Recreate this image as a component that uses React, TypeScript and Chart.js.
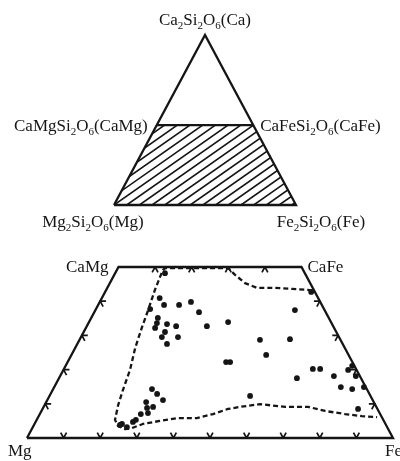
import React, { useEffect, useRef } from "react";
import { Chart, registerables } from "chart.js";

Chart.register(...registerables);

const FONT = '"Liberation Serif", "Times New Roman", serif';
const MAIN_SIZE = 17;
const SUB_SIZE = 11;
const SUB_DROP = 4;
const INK = "#151515";

// ---------- upper diagram: Ca2Si2O6 – Mg2Si2O6 – Fe2Si2O6 (x: % along base, y: Ca %)
const triangleX = [0, 100, 50, 0];
const triangleY = [0, 0, 100, 0];
const joinCa = 47; // level of the CaMg–CaFe join as drawn
const triangleLabels = [
  "Ca₂Si₂O₆(Ca)",
  "CaMgSi₂O₆(CaMg)",
  "CaFeSi₂O₆(CaFe)",
  "Mg₂Si₂O₆(Mg)",
  "Fe₂Si₂O₆(Fe)",
];

// ---------- lower diagram: pyroxene quadrilateral (Fs %, Wo %)
const quadFs = [0, 100, 50, 0, 0];
const quadWo = [0, 0, 50, 50, 0];
const quadLabels = ["CaMg", "CaFe", "Mg", "Fe"];

const sampleFs = [
  15.8, 18.0, 22.1, 24.9, 28.6, 14.8, 18.2, 18.7, 21.6, 24.4, 18.9, 22.2, 22.1,
  26.5, 24.5, 32.8, 38.0, 13.6, 54.5, 49.3, 57.4, 56.3, 53.2, 43.3, 44.4, 68.0,
  70.0, 65.0, 74.8, 77.8, 78.3, 80.8, 78.3, 81.7, 84.6, 54.8, 86.2, 27.0, 29.1,
  31.6, 27.3, 29.9, 28.4, 29.4, 27.6, 27.1, 26.6, 23.9, 25.7, 23.5,
];
const sampleWo = [
  40.9, 38.9, 38.9, 39.8, 36.8, 37.7, 35.1, 33.6, 33.3, 32.7, 32.2, 31.0, 29.5,
  29.5, 27.5, 32.7, 33.9, 48.2, 37.4, 28.7, 28.9, 42.7, 24.3, 22.2, 22.2, 20.2,
  20.2, 17.5, 18.1, 19.9, 21.1, 18.1, 14.9, 14.3, 14.9, 12.3, 8.5, 14.3, 12.9,
  11.1, 10.5, 9.1, 8.8, 7.3, 7.0, 5.3, 4.7, 4.1, 3.2, 3.8,
];

// dashed field boundary
const fieldFs = [
  56.4, 55.1, 50.6, 45.8, 40.9, 36.9, 33.0, 30.1, 22.5, 12.9, 12.6, 12.8, 13.3,
  14.4, 15.2, 16.4, 18.2, 19.2, 20.1, 21.4, 23.1, 25.5, 27.2, 29.6, 33.8, 38.1,
  43.5, 47.3, 50.7, 53.7, 58.7, 66.0, 72.3, 77.5, 83.4, 88.3, 92.6,
];
const fieldWo = [
  43.0, 43.3, 43.6, 43.9, 43.9, 45.3, 47.7, 49.7, 49.7, 49.7, 49.1, 47.1, 43.3,
  37.4, 32.5, 26.3, 19.9, 14.0, 9.6, 5.3, 3.5, 2.6, 2.9, 4.1, 5.0, 5.8, 5.8, 7.0,
  8.5, 9.1, 9.9, 9.1, 9.1, 7.9, 7.0, 6.4, 6.1,
];

const baseTicks = [10, 20, 30, 40, 50, 60, 70, 80, 90]; // Fs on Mg–Fe
const sideTicks = [10, 20, 30, 40]; // Wo on both sides
const topTicks = [10, 20, 30, 40]; // Fs on CaMg–CaFe

const TICK_ARM = 1.6; // arm length in composition units

type P = { x: number; y: number };
const toXY = (fs: number, wo: number): P => ({ x: fs + wo / 2, y: wo });
const GAP: P = { x: NaN, y: NaN };

function tickPath(): P[] {
  const d = TICK_ARM;
  const out: P[] = [];
  const v = (a: [number, number], b: [number, number], c: [number, number]) => {
    out.push(toXY(a[0], a[1]), toXY(b[0], b[1]), toXY(c[0], c[1]), GAP);
  };
  baseTicks.forEach((f) => v([f, d], [f, 0], [f - d, d]));
  sideTicks.forEach((w) => v([d, w], [0, w], [d, w - d]));
  sideTicks.forEach((w) => v([100 - w - d, w], [100 - w, w], [100 - w, w - d]));
  topTicks.forEach((f) => v([f, 50 - d], [f, 50], [f + d, 50 - d]));
  return out;
}

function drawRich(
  ctx: CanvasRenderingContext2D,
  text: string,
  x: number,
  y: number,
  align: "left" | "center" | "right"
) {
  const parts: { t: string; sub: boolean }[] = [];
  for (const ch of text) {
    const code = ch.codePointAt(0)!;
    const sub = code >= 0x2080 && code <= 0x2089;
    const t = sub ? String(code - 0x2080) : ch;
    const last = parts[parts.length - 1];
    if (last && last.sub === sub) last.t += t;
    else parts.push({ t, sub });
  }
  const fontFor = (sub: boolean) => `${sub ? SUB_SIZE : MAIN_SIZE}px ${FONT}`;
  let total = 0;
  for (const p of parts) {
    ctx.font = fontFor(p.sub);
    total += ctx.measureText(p.t).width;
  }
  let cx = align === "left" ? x : align === "right" ? x - total : x - total / 2;
  ctx.save();
  ctx.textAlign = "left";
  ctx.textBaseline = "alphabetic";
  ctx.fillStyle = INK;
  for (const p of parts) {
    ctx.font = fontFor(p.sub);
    ctx.fillText(p.t, cx, y + (p.sub ? SUB_DROP : 0));
    cx += ctx.measureText(p.t).width;
  }
  ctx.restore();
}

function baseOptions(padding: any, yMax: number): any {
  return {
    animation: false,
    responsive: false,
    devicePixelRatio: 1,
    events: [],
    layout: { padding },
    plugins: { legend: { display: false }, tooltip: { enabled: false } },
    scales: {
      x: { type: "linear", min: 0, max: 100, display: false },
      y: { type: "linear", min: 0, max: yMax, display: false },
    },
  };
}

const lineDs = (data: P[], extra: any = {}) => ({
  data,
  showLine: true,
  borderColor: INK,
  borderWidth: 2.3,
  pointRadius: 0,
  pointHoverRadius: 0,
  tension: 0,
  spanGaps: false,
  clip: false,
  borderJoinStyle: "miter",
  ...extra,
});

function topConfig(): any {
  const hatchX = [0, 100, 100 - joinCa / 2, joinCa / 2];
  const hatchY = [0, 0, joinCa, joinCa];
  const hatchPlugin = {
    id: "hatch",
    beforeDatasetsDraw(chart: any) {
      const { ctx, scales } = chart;
      const pts = hatchX.map((v, i) => [
        scales.x.getPixelForValue(v),
        scales.y.getPixelForValue(hatchY[i]),
      ]);
      const xs = pts.map((p) => p[0]);
      const ys = pts.map((p) => p[1]);
      const minX = Math.min(...xs), maxX = Math.max(...xs);
      const minY = Math.min(...ys), maxY = Math.max(...ys);
      ctx.save();
      ctx.beginPath();
      pts.forEach((p, i) => (i ? ctx.lineTo(p[0], p[1]) : ctx.moveTo(p[0], p[1])));
      ctx.closePath();
      ctx.clip();
      const t = Math.tan((35 * Math.PI) / 180);
      const h = maxY - minY;
      const run = h / t;
      const step = 12.7;
      ctx.beginPath();
      for (let bx = minX - Math.ceil(run / step) * step; bx <= maxX + step; bx += step) {
        ctx.moveTo(bx, maxY);
        ctx.lineTo(bx + run, minY);
      }
      ctx.lineWidth = 1.6;
      ctx.strokeStyle = INK;
      ctx.stroke();
      ctx.restore();
    },
  };
  const labelPlugin = {
    id: "triLabels",
    afterDraw(chart: any) {
      const { ctx, scales } = chart;
      const px = (x: number, y: number) => [scales.x.getPixelForValue(x), scales.y.getPixelForValue(y)];
      const apex = px(triangleX[2], triangleY[2]);
      const mg = px(triangleX[0], triangleY[0]);
      const fe = px(triangleX[1], triangleY[1]);
      const jl = px(joinCa / 2, joinCa);
      const jr = px(100 - joinCa / 2, joinCa);
      drawRich(ctx, triangleLabels[0], apex[0], apex[1] - 10, "center");
      drawRich(ctx, triangleLabels[1], jl[0] - 9, jl[1] + 6, "right");
      drawRich(ctx, triangleLabels[2], jr[0] + 7, jr[1] + 6, "left");
      drawRich(ctx, triangleLabels[3], mg[0] - 21, mg[1] + 22, "center");
      drawRich(ctx, triangleLabels[4], fe[0] + 25, fe[1] + 22, "center");
    },
  };
  return {
    type: "scatter",
    data: {
      datasets: [
        lineDs(triangleX.map((x, i) => ({ x, y: triangleY[i] }))),
        lineDs([
          { x: joinCa / 2, y: joinCa },
          { x: 100 - joinCa / 2, y: joinCa },
        ]),
      ],
    },
    options: baseOptions({ left: 114, right: 104, top: 35, bottom: 256 }, 100),
    plugins: [hatchPlugin, labelPlugin],
  };
}

function bottomConfig(): any {
  const labelPlugin = {
    id: "quadLabels",
    afterDraw(chart: any) {
      const { ctx, scales } = chart;
      const px = (fs: number, wo: number) => {
        const p = toXY(fs, wo);
        return [scales.x.getPixelForValue(p.x), scales.y.getPixelForValue(p.y)];
      };
      const camg = px(0, 50);
      const cafe = px(50, 50);
      const mg = px(0, 0);
      const fe = px(100, 0);
      drawRich(ctx, quadLabels[0], camg[0] - 10, camg[1] + 5, "right");
      drawRich(ctx, quadLabels[1], cafe[0] + 6, cafe[1] + 5, "left");
      drawRich(ctx, quadLabels[2], mg[0] - 19, mg[1] + 18, "left");
      drawRich(ctx, quadLabels[3], fe[0] - 8, fe[1] + 18, "left");
    },
  };
  return {
    type: "scatter",
    data: {
      datasets: [
        {
          data: sampleFs.map((f, i) => toXY(f, sampleWo[i])),
          showLine: false,
          pointRadius: 2.9,
          pointHoverRadius: 2.9,
          pointBackgroundColor: INK,
          pointBorderWidth: 0,
          clip: false,
        },
        lineDs(quadFs.map((f, i) => toXY(f, quadWo[i]))),
        lineDs(tickPath(), { borderWidth: 1.7, borderJoinStyle: "round" }),
        lineDs(
          fieldFs.map((f, i) => toXY(f, fieldWo[i])),
          { borderWidth: 2.3, borderDash: [5, 3], borderJoinStyle: "round" }
        ),
      ],
    },
    options: baseOptions({ left: 27, right: 7, top: 267, bottom: 23 }, 50),
    plugins: [labelPlugin],
  };
}

export default function App() {
  const topRef = useRef<HTMLCanvasElement>(null);
  const botRef = useRef<HTMLCanvasElement>(null);
  useEffect(() => {
    const c1 = new Chart(topRef.current!, topConfig());
    const c2 = new Chart(botRef.current!, bottomConfig());
    return () => {
      c1.destroy();
      c2.destroy();
    };
  }, []);
  const cs: React.CSSProperties = { position: "absolute", left: 0, top: 0 };
  return (
    <div style={{ position: "absolute", left: 0, top: 0, width: 400, height: 461, background: "#fff" }}>
      <canvas ref={topRef} width={400} height={461} style={cs} />
      <canvas ref={botRef} width={400} height={461} style={cs} />
    </div>
  );
}
